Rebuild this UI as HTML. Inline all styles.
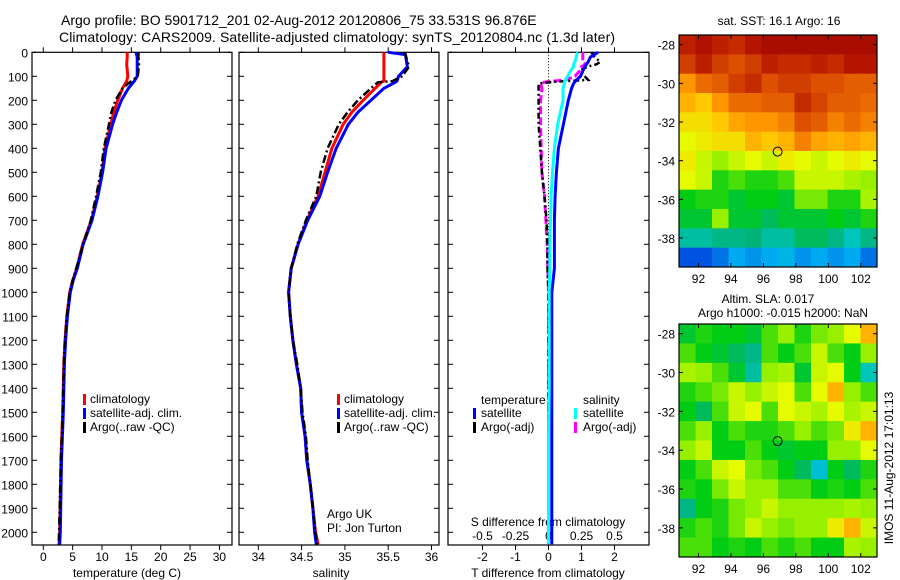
<!DOCTYPE html>
<html><head><meta charset="utf-8"><style>
html,body{margin:0;padding:0;background:#fff;}
svg{display:block;font-family:"Liberation Sans",sans-serif;}
text{fill:#000;}
</style></head><body>
<svg id="fig" width="900" height="580" viewBox="0 0 900 580">
<g id="g"></g>
</svg>
<script>
// ---------- data ----------
const depthT = [0,20,50,100,120,150,200,250,300,400,500,600,700,800,900,950,1000,1100,1200,1300,1500,1700,2000,2050];
const tempClim = [14.3,14.3,14.2,14.4,14.2,13.5,12.7,12.0,11.5,10.5,10.0,9.2,8.2,6.7,5.7,5.0,4.5,4.0,3.7,3.5,3.3,3.0,2.8,2.7];
const tempSat  = [15.8,16.0,16.0,16.0,15.5,14.5,13.3,12.5,11.8,10.7,10.1,9.3,8.3,6.8,5.8,5.1,4.6,4.1,3.8,3.6,3.4,3.1,2.9,2.8];
const tempArgo = [16.2,16.2,16.3,16.1,15.0,13.5,12.3,11.6,11.2,10.3,9.8,9.0,8.1,6.8,5.6,5.0,4.5,4.0,3.7,3.5,3.3,3.0,2.7,2.6];

const depthS = [0,10,60,100,120,125,150,200,250,300,400,500,600,700,800,900,1000,1100,1200,1300,1400,1500,1600,1700,1800,1900,2000,2050];
const salClim = [35.45,35.45,35.45,35.45,35.45,35.42,35.35,35.21,35.08,34.98,34.85,34.77,34.69,34.56,34.46,34.38,34.35,34.37,34.40,34.44,34.49,34.50,34.54,34.56,34.60,34.63,34.66,34.69];
const salSat  = [35.50,35.70,35.72,35.62,35.60,35.58,35.45,35.30,35.15,35.04,34.90,34.80,34.71,34.57,34.46,34.38,34.35,34.37,34.40,34.44,34.49,34.50,34.54,34.56,34.60,34.63,34.65,34.67];
const salArgo = [35.68,35.70,35.74,35.66,35.55,35.38,35.30,35.15,35.03,34.93,34.80,34.72,34.67,34.55,34.45,34.38,34.35,34.37,34.40,34.45,34.49,34.51,34.55,34.57,34.60,34.63,34.66,34.68];

const depthD = [0,20,40,50,60,75,100,115,123,130,150,200,300,400,500,600,700,800,900,1000,1200,1400,1600,1800,2000,2050];
const dTSat  = [1.5,1.27,1.2,1.15,1.1,1.05,0.97,0.85,0.8,0.76,0.7,0.6,0.45,0.3,0.24,0.2,0.18,0.18,0.18,0.1,0.1,0.1,0.1,0.1,0.1,0.1];
const dTArgo = [1.3,1.4,1.57,1.45,1.18,0.97,1.1,1.2,0.2,-0.3,-0.3,-0.3,-0.3,-0.25,-0.2,-0.12,-0.06,-0.03,-0.03,0,0,0,0,0,0,0];
const dSSat  = [0.22,0.21,0.2,0.19,0.19,0.17,0.145,0.13,0.12,0.12,0.11,0.11,0.07,0.045,0.03,0.02,0.015,0.01,0.01,0.005,0.005,0.005,0.0,0.0,0.0,0.0];
const dSArgo = [0.26,0.26,0.26,0.28,0.25,0.24,0.2,0.13,-0.02,-0.06,-0.05,-0.06,-0.06,-0.055,-0.05,-0.03,-0.02,-0.01,-0.005,0,0,0,0,0,0,0];

const sstGrid = [
[.9,.93,.9,.88,.92,.95,.95,.95,.95,.95,.95,.95],
[.85,.9,.85,.82,.85,.9,.88,.88,.9,.88,.92,.92],
[.72,.78,.8,.85,.88,.82,.85,.85,.82,.82,.8,.8],
[.68,.65,.72,.78,.78,.8,.8,.88,.84,.8,.8,.78],
[.62,.62,.65,.7,.72,.72,.75,.82,.8,.75,.78,.75],
[.58,.6,.62,.62,.68,.65,.68,.75,.7,.68,.7,.68],
[.6,.55,.5,.55,.58,.55,.6,.58,.55,.58,.6,.58],
[.58,.55,.42,.45,.42,.42,.45,.55,.55,.55,.52,.5],
[.4,.42,.42,.38,.4,.4,.38,.48,.48,.42,.42,.52],
[.38,.38,.5,.38,.38,.35,.38,.38,.38,.4,.38,.42],
[.3,.3,.32,.32,.33,.3,.3,.35,.35,.32,.28,.32],
[.12,.12,.15,.2,.18,.2,.22,.18,.2,.18,.2,.15]];
const slaGrid = [
[.38,.42,.4,.4,.38,.45,.5,.42,.48,.5,.58,.68],
[.45,.4,.38,.35,.32,.45,.4,.45,.55,.45,.4,.5],
[.52,.5,.45,.38,.3,.5,.52,.38,.55,.58,.4,.28],
[.42,.45,.48,.55,.5,.55,.58,.45,.58,.68,.5,.45],
[.4,.35,.45,.55,.58,.45,.58,.55,.52,.58,.52,.55],
[.45,.5,.4,.45,.42,.42,.45,.5,.45,.48,.6,.68],
[.5,.55,.4,.4,.45,.4,.38,.4,.4,.5,.5,.58],
[.4,.45,.55,.58,.48,.45,.4,.35,.25,.4,.35,.42],
[.42,.4,.48,.55,.5,.5,.45,.45,.4,.42,.4,.45],
[.32,.4,.42,.48,.5,.55,.5,.5,.5,.5,.52,.5],
[.42,.45,.42,.48,.55,.5,.48,.5,.5,.6,.68,.55],
[.45,.45,.4,.42,.4,.45,.42,.45,.4,.4,.52,.5]];
const argoLon = 96.876, argoLat = -33.531;
const depthTicks = [0,100,200,300,400,500,600,700,800,900,1000,1100,1200,1300,1400,1500,1600,1700,1800,1900,2000];
const tempTicks = [0,5,10,15,20,25,30];
const salTicks = [34,34.5,35,35.5,36];
const dTTicks = [-2,-1,0,1,2];
const dSTicks = [-0.5,-0.25,0,0.25,0.5];
const lonTicks = [92,94,96,98,100,102];
const latTicks = [-28,-30,-32,-34,-36,-38];

// ---------- helpers ----------
const NS="http://www.w3.org/2000/svg";
const G=document.getElementById('g');
function mk(tag,attrs,parent){const e=document.createElementNS(NS,tag);for(const k in attrs)e.setAttribute(k,attrs[k]);(parent||G).appendChild(e);return e;}
function txt(s,x,y,anchor,size,parent){const t=mk('text',{x:x,y:y,'text-anchor':anchor||'start','font-size':size||12},parent);t.textContent=s;return t;}
const TOP=52.3, BOT=545;
const yD=d=>TOP+0.24*d;
const xT=v=>43.3+5.87*v;
const xS=v=>258.3+86.6*(v-34);
const xDT=v=>548.5+33*v;
const xDS=v=>548.5+132*v;

function frame(x0,x1,y0,y1,name){
  const r=mk('rect',{x:x0,y:y0,width:x1-x0,height:y1-y0,fill:'none',stroke:'#000','stroke-width':1.2});
  
  
}
function line(xs,ys,color,w,dash,name){
  let p=xs.map((x,i)=>x.toFixed(1)+','+ys[i].toFixed(1)).join(' ');
  const a={points:p,fill:'none',stroke:color,'stroke-width':w,'stroke-linejoin':'miter'};
  if(dash)a['stroke-dasharray']=dash;
  const l=mk('polyline',a);
  
  
}
function yticks(x0,x1){depthTicks.forEach(d=>{const y=yD(d);mk('line',{x1:x0,x2:x0+5,y1:y,y2:y,stroke:'#000'});mk('line',{x1:x1,x2:x1-5,y1:y,y2:y,stroke:'#000'});});}
function xticks(vals,fx,y0,y1){vals.forEach(v=>{const x=fx(v);mk('line',{x1:x,x2:x,y1:y0,y2:y0+5,stroke:'#000'});mk('line',{x1:x,x2:x,y1:y1,y2:y1-5,stroke:'#000'});});}
function legendMark(x,y,color){mk('rect',{x:x,y:y-9,width:3,height:11,fill:color});}

// ---------- titles ----------
let t=txt('Argo profile: BO 5901712_201 02-Aug-2012 20120806_75 33.531S 96.876E',61,25,'start',14);


t=txt('Climatology: CARS2009. Satellite-adjusted climatology: synTS_20120804.nc (1.3d later)',59,42,'start',14);
t.setAttribute('textLength','556');



// ---------- panel 1 temperature ----------
frame(32,232,TOP,BOT,'temperature-panel');
yticks(32,232);
xticks(tempTicks,xT,BOT,TOP);
depthTicks.forEach(d=>{const e=txt(String(d),28,yD(d)+5,'end',12);
  
  });
tempTicks.forEach(v=>{const e=txt(String(v),xT(v),561,'middle',12);
  
  });
t=txt('temperature (deg C)',127,577,'middle',12);


line(tempClim.map(xT),depthT.map(yD),'#f00',3,null,'temperature-climatology-line');
line(tempSat.map(xT),depthT.map(yD),'#00f',3,null,'temperature-satellite-line');
line(tempArgo.map(xT),depthT.map(yD),'#000',2.5,'8,3,2,3','temperature-argo-line');
[['climatology','#f00',403],['satellite-adj. clim.','#00f',417],['Argo(..raw -QC)','#000',431]].forEach(l=>{
  legendMark(83,l[2],l[1]);const e=txt(l[0],90,l[2],'start',12);
  
  });

// ---------- panel 2 salinity ----------
frame(239,439,TOP,BOT,'salinity-panel');
yticks(239,439);
xticks(salTicks,xS,BOT,TOP);
salTicks.forEach(v=>{const e=txt(String(v),xS(v),561,'middle',12);
  
  });
t=txt('salinity',331,577,'middle',12);


line(salClim.map(xS),depthS.map(yD),'#f00',3,null,'salinity-climatology-line');
line(salSat.map(xS),depthS.map(yD),'#00f',3,null,'salinity-satellite-line');
line(salArgo.map(xS),depthS.map(yD),'#000',2.5,'8,3,2,3','salinity-argo-line');
[['climatology','#f00',403],['satellite-adj. clim.','#00f',417],['Argo(..raw -QC)','#000',431]].forEach(l=>{
  legendMark(337,l[2],l[1]);const e=txt(l[0],344,l[2],'start',12);
  
  });
t=txt('Argo UK',327,518,'start',12);


t=txt('PI: Jon Turton',327,532,'start',12);



// ---------- panel 3 differences ----------
frame(448,649,TOP,BOT,'difference-panel');
yticks(448,649);
xticks(dTTicks,xDT,BOT,TOP);
mk('line',{x1:xDT(0),x2:xDT(0),y1:TOP,y2:BOT,stroke:'#000','stroke-dasharray':'1,2'});
dTTicks.forEach(v=>{const e=txt(String(v),xDT(v),561,'middle',12);
  
  });
dSTicks.forEach(v=>{const e=txt(String(v),xDS(v),540,'middle',12);
  
  });
t=txt('S difference from climatology',548,526,'middle',12);


t=txt('T difference from climatology',548,577,'middle',12);


line(dSArgo.map(xDS),depthD.map(yD),'#f0f',3,'8,3','s-argo-difference-line');
line(dTArgo.map(xDT),depthD.map(yD),'#000',2.5,'6,3,2,3','t-argo-difference-line');
line(dTSat.map(xDT),depthD.map(yD),'#00f',3,null,'t-satellite-difference-line');
line(dSSat.map(xDS),depthD.map(yD),'#0ff',3,null,'s-satellite-difference-line');
t=txt('temperature',481,404,'start',12);


t=txt('salinity',583,404,'start',12);


[['satellite','#00f',473,481,417],['Argo(-adj)','#000',473,481,431],['satellite','#0ff',574,583,417],['Argo(-adj)','#f0f',574,583,431]].forEach(l=>{
  legendMark(l[2],l[4],l[1]);const e=txt(l[0],l[3],l[4],'start',12);
  
  });

// ---------- maps ----------
const stops=[[0,[0,0,140]],[.1,[0,60,220]],[.2,[0,170,240]],[.27,[0,200,200]],[.33,[0,180,120]],[.4,[0,205,20]],[.5,[150,240,0]],[.58,[230,250,0]],[.65,[255,200,0]],[.72,[255,150,0]],[.82,[220,80,0]],[.92,[180,20,0]],[1,[150,0,0]]];
function cmap(v){for(let i=1;i<stops.length;i++){if(v<=stops[i][0]){const a=stops[i-1],b=stops[i];const f=(v-a[0])/(b[0]-a[0]);const c=a[1].map((x,k)=>Math.round(x+(b[1][k]-x)*f));return 'rgb('+c.join(',')+')';}}return 'rgb(150,0,0)';}
const MX0=679,MX1=877,LON0=90.8,LON1=103,LAT0=-27.5,LAT1=-39.5;
const xLon=l=>MX0+(l-LON0)/(LON1-LON0)*(MX1-MX0);
function drawMap(grid,y0,y1,name){
  const yLat=la=>y0+(la-LAT0)/(LAT1-LAT0)*(y1-y0);
  const nr=grid.length,nc=grid[0].length;
  const grp=mk('g',{});
  
  
  grid.forEach((row,r)=>row.forEach((v,c)=>{
    const la0=LAT0+(LAT1-LAT0)*r/nr, la1=LAT0+(LAT1-LAT0)*(r+1)/nr;
    const lo0=LON0+(LON1-LON0)*c/nc, lo1=LON0+(LON1-LON0)*(c+1)/nc;
    const cell=mk('rect',{x:xLon(lo0),y:yLat(la0),width:xLon(lo1)-xLon(lo0)+0.5,height:yLat(la1)-yLat(la0)+0.5,fill:cmap(v)},grp);
    
    
  }));
  frame(MX0,MX1,y0,y1,name+'-frame');
  lonTicks.forEach(l=>{const x=xLon(l);mk('line',{x1:x,x2:x,y1:y0,y2:y0+4,stroke:'#000'});mk('line',{x1:x,x2:x,y1:y1,y2:y1-4,stroke:'#000'});
    const e=txt(String(l),x,y1+16,'middle',12);
    
    });
  latTicks.forEach(la=>{const y=yLat(la);mk('line',{x1:MX0,x2:MX0+4,y1:y,y2:y,stroke:'#000'});mk('line',{x1:MX1,x2:MX1-4,y1:y,y2:y,stroke:'#000'});
    const e=txt(String(la),675,y+5,'end',12);
    
    });
  const c=mk('circle',{cx:xLon(argoLon),cy:yLat(argoLat),r:4.5,fill:'none',stroke:'#000','stroke-width':1});
  
  
}
drawMap(sstGrid,35,267,'sst-map');
drawMap(slaGrid,324,557,'sla-map');
t=txt('sat. SST: 16.1  Argo: 16',779,25,'middle',12);


t=txt('Altim. SLA: 0.017',768,303,'middle',12);


t=txt('Argo h1000: -0.015 h2000: NaN',783,317,'middle',12);


t=txt('IMOS 11-Aug-2012 17:01:13',0,0,'middle',12);
t.setAttribute('transform','translate(893,468) rotate(-90)');


</script>
</body></html>
